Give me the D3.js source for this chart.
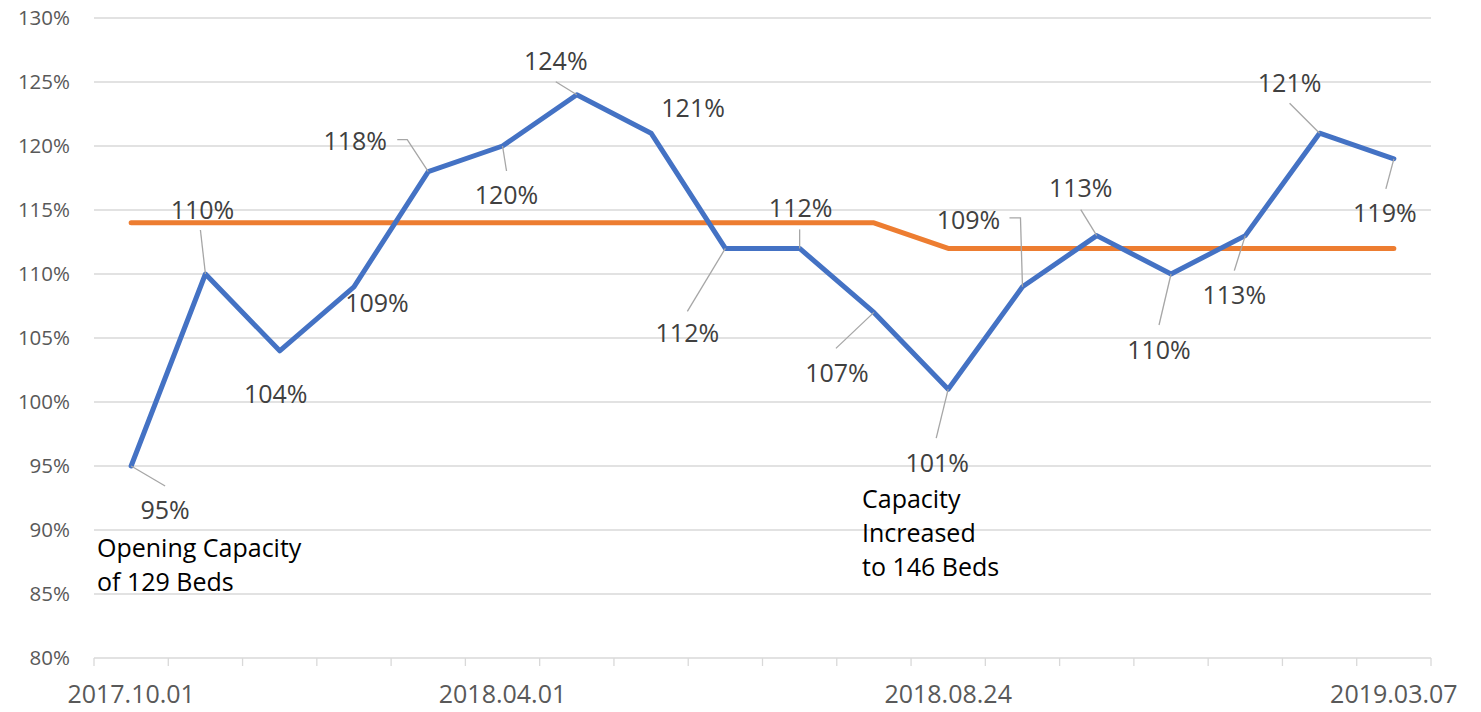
<!DOCTYPE html>
<html>
<head>
<meta charset="utf-8">
<script src="https://cdn.jsdelivr.net/npm/d3@7"></script>
<style>
    body { margin: 0; background: #fff; }
    svg { font-family: "Open Sans", "Noto Sans", sans-serif; }
</style>
</head>
<body>
<svg id="chart" width="1481" height="712"></svg>
<script>
// data
let categories = d3.range(18);
let tickLabels = ["2017.10.01", "", "", "", "", "2018.04.01", "", "", "", "", "", "2018.08.24", "", "", "", "", "", "2019.03.07"];
let occupancy = [95, 110, 104, 109, 118, 120, 124, 121, 112, 112, 107, 101, 109, 113, 110, 113, 121, 119];
let capacityLine = [114, 114, 114, 114, 114, 114, 114, 114, 114, 114, 114, 112, 112, 112, 112, 112, 112, 112];
let yTicks = [80, 85, 90, 95, 100, 105, 110, 115, 120, 125, 130];

// label layout: [label dx, label dy, leader dx, leader dy, elbow dx] relative to the point
let labelLayout = [
    [34, 44, 34, 20],
    [-3, -64, -5, -44],
    [-4, 43],
    [23, 16],
    [-73, -30, -21, -32, -31],
    [4, 49, 4, 25],
    [-21, -34, -21, -13],
    [42, -25],
    [-38, 85, -38, 63],
    [1, -40, 0, -19],
    [-37, 61, -38, 36],
    [-11, 74, -12, 49],
    [-54, -67, -2, -69, -13],
    [-16, -47, -16, -26],
    [-12, 76, -12, 51],
    [-11, 60, -11, 35],
    [-30, -50, -30, -30],
    [-9, 54, -8, 30]
];

let svg = d3.select("#chart");
let margin = {top: 18, right: 50, bottom: 54, left: 94};
let width = +svg.attr("width") - margin.left - margin.right;
let height = +svg.attr("height") - margin.top - margin.bottom;

let x_scale = d3.scaleBand()
    .domain(categories)
    .range([0, width]);

let y_scale = d3.scaleLinear()
    .domain([80, 130])
    .range([height, 0]);

let cx = i => x_scale(i) + x_scale.bandwidth() / 2;

let g = svg.append("g")
    .attr("transform", `translate(${margin.left},${margin.top})`);

// gridlines
g.selectAll(".grid")
    .data(yTicks)
    .join("line")
    .attr("x1", 0)
    .attr("x2", width)
    .attr("y1", d => y_scale(d))
    .attr("y2", d => y_scale(d))
    .attr("stroke", "#d9d9d9")
    .attr("stroke-width", 1.3);

// y labels
g.selectAll(".ylab")
    .data(yTicks)
    .join("text")
    .attr("x", -24)
    .attr("y", d => y_scale(d))
    .attr("dy", "0.35em")
    .attr("text-anchor", "end")
    .attr("font-size", "20.5px")
    .attr("fill", "#595959")
    .text(d => d + "%");

// x axis ticks at category boundaries
let bounds = d3.range(categories.length + 1).map(i => i * x_scale.step());
g.selectAll(".xtick")
    .data(bounds)
    .join("line")
    .attr("x1", d => d)
    .attr("x2", d => d)
    .attr("y1", height)
    .attr("y2", height + 8)
    .attr("stroke", "#d9d9d9")
    .attr("stroke-width", 1.3);

g.selectAll(".xlab")
    .data(categories)
    .join("text")
    .attr("x", d => cx(d))
    .attr("y", height + 36)
    .attr("dy", "0.35em")
    .attr("text-anchor", "middle")
    .attr("font-size", "25px")
    .attr("fill", "#595959")
    .text(d => tickLabels[d]);

// lines
let line = d3.line()
    .x((d, i) => cx(i))
    .y(d => y_scale(d));

g.append("path")
    .datum(capacityLine)
    .attr("d", line)
    .attr("fill", "none")
    .attr("stroke", "#ed7d31")
    .attr("stroke-width", 5)
    .attr("stroke-linecap", "round")
    .attr("stroke-linejoin", "round");

g.append("path")
    .datum(occupancy)
    .attr("d", line)
    .attr("fill", "none")
    .attr("stroke", "#4472c4")
    .attr("stroke-width", 5)
    .attr("stroke-linecap", "round")
    .attr("stroke-linejoin", "round");

// leader lines + data labels
occupancy.forEach((v, i) => {
    let px = cx(i), py = y_scale(v);
    let L = labelLayout[i];
    if (L.length > 2) {
        let pts = [[px, py], [px + L[2], py + L[3]]];
        if (L.length > 4) pts.push([px + L[4], py + L[3]]);
        g.append("path")
            .attr("d", d3.line()(pts))
            .attr("fill", "none")
            .attr("stroke", "#a6a6a6")
            .attr("stroke-width", 1.3);
    }
    g.append("text")
        .attr("x", px + L[0])
        .attr("y", py + L[1])
        .attr("dy", "0.35em")
        .attr("text-anchor", "middle")
        .attr("font-size", "25px")
        .attr("fill", "#404040")
        .text(v + "%");
});

// annotations
let notes = [
    {x: 3, y: 548 - margin.top, lines: ["Opening Capacity", "of 129 Beds"]},
    {x: 768, y: 499 - margin.top, lines: ["Capacity", "Increased", "to 146 Beds"]}
];
notes.forEach(n => {
    let t = g.append("text")
        .attr("x", n.x)
        .attr("y", n.y)
        .attr("font-size", "25px")
        .attr("fill", "#000");
    n.lines.forEach((s, k) => {
        t.append("tspan")
            .attr("x", n.x)
            .attr("y", n.y + k * 34)
            .attr("dy", "0.35em")
            .text(s);
    });
});
</script>
</body>
</html>
